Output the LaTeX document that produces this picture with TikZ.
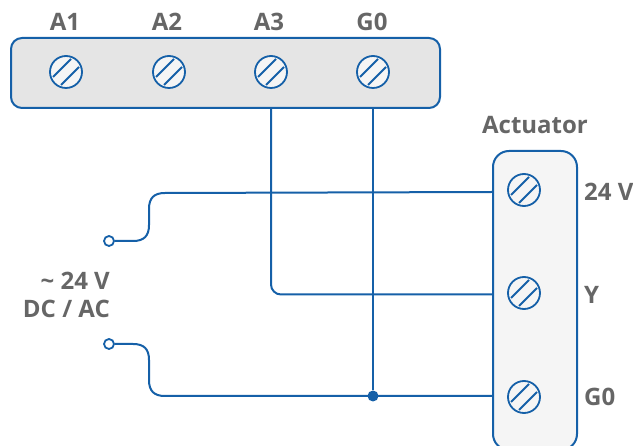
\documentclass[tikz,border=0pt]{standalone}
\usepackage{fontspec}
\setmainfont{Open Sans}
\definecolor{wireblue}{HTML}{1560A8}
\definecolor{labelgray}{HTML}{666666}
\tikzset{
    wire/.style={draw=wireblue, line width=2pt},
    block/.style={draw=wireblue, line width=2pt, rectangle, inner sep=0pt},
    lbl/.style={text=labelgray, font=\bfseries\fontsize{24}{28}\selectfont, inner sep=0pt},
    screw/.style={draw=wireblue, line width=1.8pt, circle, fill=#1, minimum size=32pt, inner sep=0pt,
        path picture={
            \draw[wireblue, line width=1.8pt]
                ([shift={(-13,5)}]path picture bounding box.center) -- ([shift={(5,-13)}]path picture bounding box.center)
                ([shift={(-5,13)}]path picture bounding box.center) -- ([shift={(13,-5)}]path picture bounding box.center);
        }},
    terminal/.style={draw=wireblue, line width=1.8pt, circle, fill=white, minimum size=10pt, inner sep=0pt},
    junction/.style={fill=wireblue, circle, minimum size=11pt, inner sep=0pt}
}

\begin{document}
\begin{tikzpicture}[x=1pt, y=-1pt]
    \useasboundingbox (0,0) rectangle (633,446);

    % blocks
    \node[block, fill=gray!20, rounded corners=11pt, minimum width=429pt, minimum height=70pt] (top) at (225.5,73) {};
    \node[block, fill=gray!8, rounded corners=16pt, minimum width=84pt, minimum height=299pt] (act) at (535,300.5) {};

    % upper terminals
    \foreach \name/\x/\lx in {A1/66/65,A2/169/167,A3/271/269,G0/373/372}{
        \node[screw=gray!8] (s\name) at (\x,72) {};
        \node[lbl] (l\name) at (\lx,22) {\name};
    }

    % actuator terminals
    \node[screw=gray!8] (s24) at (524,190) {};
    \node[screw=gray!8] (sY) at (524,293) {};
    \node[screw=gray!8] (sG) at (524,397) {};
    \node[lbl] (lact) at (535,125) {Actuator};
    \node[lbl, anchor=west] (l24) at (584,192) {24 V};
    \node[lbl, anchor=west] (lY) at (584,295) {Y};
    \node[lbl, anchor=west] (lG) at (584,397) {G0};

    % supply
    \node[terminal] (p1) at (109,241) {};
    \node[terminal] (p2) at (109,344) {};
    \node[lbl, anchor=east] (v1) at (110,281) {\textasciitilde\ 24 V};
    \node[lbl, anchor=east] (v2) at (110,309) {DC / AC};

    % wire ends on the blocks
    \coordinate (a24) at (act.west |- 0,192);
    \coordinate (aY) at (act.west |- 0,294.5);
    \coordinate (aG) at (act.west |- 0,396);
    \coordinate (tA3) at (sA3 |- top.south);
    \coordinate (tG0) at (sG0 |- top.south);
    \node[junction] (j) at (tG0 |- aG) {};

    % wires
    \draw[wire] (p1.east) -- (133,241)
        .. controls (144,241) and (149,236) .. (149,225) -- (149,209)
        .. controls (149,198) and (154,193) .. (165,193) -- (a24);
    \draw[wire] (p2.east) -- (133,344)
        .. controls (144,344) and (149,349) .. (149,360) -- (149,380)
        .. controls (149,391) and (154,396) .. (165,396) -- (aG);
    \draw[wire, rounded corners=10pt] (tA3) |- (aY);
    \draw[wire] (tG0) -- (j);
\end{tikzpicture}
\end{document}
